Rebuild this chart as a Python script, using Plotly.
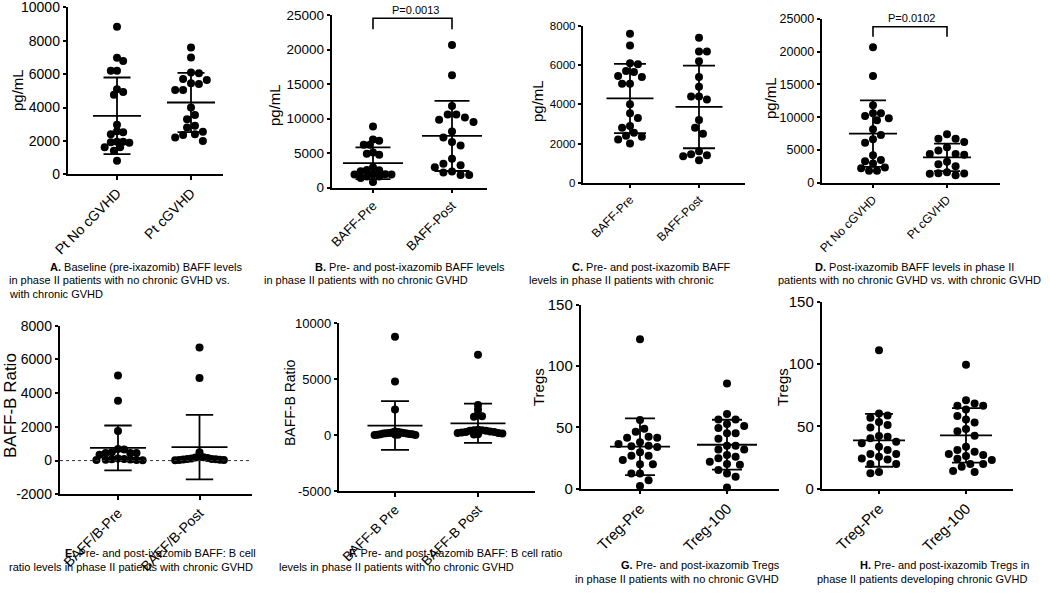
import plotly.graph_objects as go

W, H = 1050, 593
FONT = "Arial, Liberation Sans, sans-serif"

# ---------------- data ----------------
# BAFF (pg/mL)
baff_no_cgvhd_pre = [8842, 6986, 6786, 6208, 6208, 5090, 4930, 4770, 2974, 2575,
                     2515, 2395, 1956, 1956, 1916, 1896, 1617, 1617, 1417, 818]
baff_no_cgvhd_post = [20670, 16290, 11810, 10590, 10590, 10180, 9830, 9520, 8150, 7280,
                      6620, 6110, 4180, 3460, 3260, 2950, 2340, 2190, 1830, 1830]
baff_cgvhd_pre = [7600, 7000, 6100, 6050, 5700, 5650, 5450, 5400, 5050, 5050,
                  4000, 3550, 3300, 2900, 2800, 2550, 2400, 2350, 2200, 2000]
baff_cgvhd_post = [7400, 6700, 6700, 6200, 5400, 4900, 4400, 4400, 4250, 3200,
                   2800, 2500, 1600, 1450, 1400, 1350, 1150]
# BAFF : B cell ratio
ratio_cgvhd_pre = [5050, 3550, 1750, 680, 650, 500, 450, 450, 450, 350,
                   120, 100, 80, 60, 50, 40, 30, 20]
ratio_cgvhd_post = [6700, 4900, 500, 200, 200, 180, 150, 120, 100, 100,
                    80, 60, 50, 40, 30, 20]
ratio_no_pre = [8800, 4800, 2300, 350, 300, 250, 250, 200, 200, 180,
                150, 150, 120, 100, 100, 80, 50, 40, 30, 20]
ratio_no_post = [7200, 2700, 2300, 1900, 1700, 1650, 500, 450, 450, 400,
                 400, 350, 300, 300, 250, 200, 200, 150, 100, 80]
# Tregs
treg_no_pre = [122, 56, 49, 46.5, 42.5, 41.7, 41.7, 38, 36.5, 35, 34, 34.6,
               29.7, 27, 27, 23.4, 20, 20, 12.5, 12.5, 7, 2.2]
treg_no_100 = [86, 61, 56.6, 56.6, 52.8, 51.2, 49.5, 45.2, 45.2, 40.8, 35.1, 35.1,
               32, 32, 27.5, 26, 24.8, 22, 20.1, 19.5, 15.2, 12.5, 9.8, 1]
treg_c_pre = [111, 60.4, 58.8, 57, 53.5, 51, 49, 42.2, 41.7, 40.4, 37.7, 36.4,
              33.7, 31, 27.8, 27.8, 25.7, 24.3, 23.5, 19.8, 19.8, 13.4, 12.3]
treg_c_100 = [99.5, 71, 68.4, 66.6, 66.6, 63.6, 58.3, 55.6, 53.2, 47.9, 46, 42.5,
              33.7, 31, 29.7, 27.8, 27, 26.2, 24, 23, 19.8, 19.8, 17.6, 14.2, 13.4]

# mean and SD
means_A = [3500, 4300];  sds_A = [2295, 1770]
means_B = [3550, 7500];  sds_B = [2300, 5080]
means_C = [4300, 3870];  sds_C = [1770, 2110]
means_D = [7500, 3870];  sds_D = [5080, 2110]
means_E = [750, 800];    sds_E = [1330, 1910]
means_F = [870, 1070];   sds_F = [2180, 1750]
means_G = [34.3, 35.9];  sds_G = [23.2, 20.4]
means_H = [38.8, 42.8];  sds_H = [21.2, 21.9]

cats_A = ["Pt No cGVHD", "Pt cGVHD"]
cats_B = ["BAFF-Pre", "BAFF-Post"]
cats_C = ["BAFF-Pre", "BAFF-Post"]
cats_D = ["Pt No cGVHD", "Pt cGVHD"]
cats_E = ["BAFF/B-Pre", "BAFF/B-Post"]
cats_F = ["BAFF-B Pre", "BAFF-B Post"]
cats_G = ["Treg-Pre", "Treg-100"]
cats_H = ["Treg-Pre", "Treg-100"]

yticks_A = [0, 2000, 4000, 6000, 8000, 10000]
yticks_B = [0, 5000, 10000, 15000, 20000, 25000]
yticks_C = [0, 2000, 4000, 6000, 8000]
yticks_D = [0, 5000, 10000, 15000, 20000, 25000]
yticks_E = [-2000, 0, 2000, 4000, 6000, 8000]
yticks_F = [-5000, 0, 5000, 10000]
yticks_G = [0, 50, 100, 150]
yticks_H = [0, 50, 100, 150]

p_values = {"B": "P=0.0013", "D": "P=0.0102"}

captions = {
    "A": ["<b>A.</b> Baseline (pre-ixazomib) BAFF levels",
          "in phase II patients with no chronic GVHD vs.",
          "with chronic GVHD"],
    "B": ["<b>B.</b> Pre- and post-ixazomib BAFF levels",
          "in phase II patients with no chronic GVHD"],
    "C": ["<b>C.</b> Pre- and post-ixazomib BAFF",
          "levels in phase II patients with chronic"],
    "D": ["<b>D.</b> Post-ixazomib BAFF levels in phase II",
          "patients with no chronic GVHD vs. with chronic GVHD"],
    "E": ["<b>E.</b> Pre- and post-ixazomib BAFF: B cell",
          "ratio levels in phase II patients with chronic GVHD"],
    "F": ["<b>F.</b> Pre- and post-ixazomib BAFF: B cell ratio",
          "levels in phase II patients with no chronic GVHD"],
    "G": ["<b>G.</b> Pre- and post-ixazomib Tregs",
          "in phase II patients with no chronic GVHD"],
    "H": ["<b>H.</b> Pre- and post-ixazomib Tregs in",
          "phase II patients developing chronic GVHD"],
}

# ---------------- layout / style (pixel geometry) ----------------
panels = [
    dict(k="A", groups=[baff_no_cgvhd_pre, baff_cgvhd_pre], means=means_A, sds=sds_A, cats=cats_A,
         yticks=yticks_A, ytitle="pg/mL", x0=68, x1=223, c0=117, c1=191, ytop=7.3, ybot=174.3,
         mw=24, cw=13.5, sp=16, tf=14, xf=14, yf=15, tx=17, ty=90, cap=[(48, 267), (7, 280), (7, 294)]),
    dict(k="B", groups=[baff_no_cgvhd_pre, baff_no_cgvhd_post], means=means_B, sds=sds_B, cats=cats_B,
         yticks=yticks_B, ytitle="pg/mL", x0=332, x1=487, c0=373, c1=452, ytop=15, ybot=187.7,
         mw=30, cw=17.5, sp=22, tf=13.5, xf=13, yf=15, tx=274, ty=105, cap=[(313, 267), (262, 280)],
         bracket=(0.981, 0.917), ptext=(415, 10)),
    dict(k="C", groups=[baff_cgvhd_pre, baff_cgvhd_post], means=means_C, sds=sds_C, cats=cats_C,
         yticks=yticks_C, ytitle="pg/mL", x0=583, x1=745, c0=630, c1=699, ytop=26, ybot=182.7,
         mw=23.5, cw=16, sp=17, tf=11.5, xf=12, yf=15, tx=537, ty=101, cap=[(570, 267), (527, 280)]),
    dict(k="D", groups=[baff_no_cgvhd_post, baff_cgvhd_post], means=means_D, sds=sds_D, cats=cats_D,
         yticks=yticks_D, ytitle="pg/mL", x0=822, x1=1000, c0=873, c1=947, ytop=19, ybot=182.7,
         mw=24, cw=13, sp=20, tf=12.5, xf=12, yf=15, tx=771, ty=98, cap=[(813, 267), (776, 280)],
         bracket=(0.953, 0.892), ptext=(911, 18)),
    dict(k="E", groups=[ratio_cgvhd_pre, ratio_cgvhd_post], means=means_E, sds=sds_E, cats=cats_E,
         yticks=yticks_E, ytitle="BAFF-B Ratio", x0=60, x1=252, c0=118, c1=199.5, ytop=325.7, ybot=494.3,
         mw=28, cw=13.7, sp=25, tf=14, xf=14, yf=17, tx=10, ty=406, cap=[(63, 553), (7, 567)], zeroline=True),
    dict(k="F", groups=[ratio_no_pre, ratio_no_post], means=means_F, sds=sds_F, cats=cats_F,
         yticks=yticks_F, ytitle="BAFF-B Ratio", x0=339, x1=535, c0=395, c1=478, ytop=323.3, ybot=491.3,
         mw=27.5, cw=14, sp=25, tf=13, xf=13.5, yf=14, tx=290, ty=403, cap=[(347, 553), (277, 567)]),
    dict(k="G", groups=[treg_no_pre, treg_no_100], means=means_G, sds=sds_G, cats=cats_G,
         yticks=yticks_G, ytitle="Tregs", x0=581, x1=779, c0=640, c1=727, ytop=305, ybot=488.7,
         mw=30, cw=15, sp=27, tf=15, xf=15, yf=15, tx=538, ty=387, cap=[(619, 565), (573, 579)]),
    dict(k="H", groups=[treg_c_pre, treg_c_100], means=means_H, sds=sds_H, cats=cats_H,
         yticks=yticks_H, ytitle="Tregs", x0=822, x1=1013, c0=879, c1=966, ytop=301.7, ybot=488.7,
         mw=26, cw=14, sp=26, tf=15, xf=15, yf=15, tx=782, ty=387, cap=[(858, 565), (815, 579)]),
]

MARKER = 8
DIAM = 8.6


def swarm_once(values, px_per_unit, diam):
    step = diam / 2
    order = sorted(range(len(values)), key=lambda i: -values[i])
    placed = []
    offs = [0.0] * len(values)
    cands = [0.0]
    for j in range(1, 60):
        cands += [j * step, -j * step]
    flip = 1
    for i in order:
        y = values[i] * px_per_unit
        cc = 0.0
        for c in cands:
            cc = c * flip
            if all((cc - px) ** 2 + (y - py) ** 2 >= diam ** 2 for px, py in placed):
                break
        if cc != 0:
            flip = -flip
        placed.append((cc, y))
        offs[i] = cc
    return offs


def swarm(values, px_per_unit, limit):
    """Beeswarm offsets (px); markers overlap more when the swarm would exceed `limit`."""
    d = DIAM
    while True:
        offs = swarm_once(values, px_per_unit, d)
        if max(abs(o) for o in offs) <= limit or d < 1.0:
            return offs
        d *= 0.92


def px2x(px):
    return px / W


def px2y(py):
    return 1 - py / H


fig = go.Figure()
layout = {}
annotations = []

for n, p in enumerate(panels, start=1):
    xa = "x" if n == 1 else f"x{n}"
    ya = "y" if n == 1 else f"y{n}"
    u = p["c1"] - p["c0"]
    xr = [-(p["c0"] - p["x0"]) / u, 1 + (p["x1"] - p["c1"]) / u]
    yr = [p["yticks"][0], p["yticks"][-1]]
    ppu = (p["ybot"] - p["ytop"]) / (yr[1] - yr[0])

    # points
    for gi, vals in enumerate(p["groups"]):
        offs = swarm(vals, ppu, p["sp"])
        fig.add_trace(go.Scatter(
            x=[gi + o / u for o in offs], y=vals, mode="markers",
            marker=dict(color="black", size=MARKER, line=dict(width=0)),
            xaxis=xa, yaxis=ya, cliponaxis=False, showlegend=False, hoverinfo="y"))

    # mean +/- SD
    lx, ly = [], []
    for gi, (m, s) in enumerate(zip(p["means"], p["sds"])):
        mw, cw = p["mw"] / u, p["cw"] / u
        lx += [gi - mw, gi + mw, None, gi - cw, gi + cw, None, gi - cw, gi + cw, None, gi, gi, None]
        ly += [m, m, None, m + s, m + s, None, m - s, m - s, None, m - s, m + s, None]
    fig.add_trace(go.Scatter(x=lx, y=ly, mode="lines", line=dict(color="black", width=1.8),
                             xaxis=xa, yaxis=ya, showlegend=False, hoverinfo="skip"))

    if p.get("zeroline"):
        fig.add_trace(go.Scatter(x=xr, y=[0, 0], mode="lines",
                                 line=dict(color="#333333", width=1, dash="dot"),
                                 xaxis=xa, yaxis=ya, showlegend=False, hoverinfo="skip"))

    if "bracket" in p:
        top, leg = p["bracket"]
        fig.add_trace(go.Scatter(x=[0, 0, 1, 1], y=[leg * yr[1], top * yr[1], top * yr[1], leg * yr[1]],
                                 mode="lines", line=dict(color="black", width=1.6),
                                 xaxis=xa, yaxis=ya, showlegend=False, hoverinfo="skip"))
        annotations.append(dict(text=p_values[p["k"]], x=px2x(p["ptext"][0]), y=px2y(p["ptext"][1]),
                                xref="paper", yref="paper", showarrow=False, xanchor="center",
                                yanchor="middle", font=dict(size=11, color="black", family=FONT)))

    axis_common = dict(showline=True, linecolor="black", linewidth=1.5, ticks="outside",
                       ticklen=3.5, tickwidth=1.5, tickcolor="black", showgrid=False,
                       zeroline=False, fixedrange=True, automargin=False,
                       ticklabeloverflow="allow")
    layout["xaxis" if n == 1 else f"xaxis{n}"] = dict(
        domain=[px2x(p["x0"]), px2x(p["x1"])], range=xr, anchor=ya,
        tickvals=[0, 1], ticktext=p["cats"], tickangle=-45,
        tickfont=dict(size=p["xf"], color="black", family=FONT), **axis_common)
    layout["yaxis" if n == 1 else f"yaxis{n}"] = dict(
        domain=[px2y(p["ybot"]), px2y(p["ytop"])], range=yr, anchor=xa,
        tickvals=p["yticks"], ticktext=[str(v) for v in p["yticks"]],
        tickfont=dict(size=p["tf"], color="black", family=FONT), **axis_common)

    annotations.append(dict(text=p["ytitle"], x=px2x(p["tx"]), y=px2y(p["ty"]), xref="paper",
                            yref="paper", showarrow=False, textangle=-90, xanchor="center",
                            yanchor="middle", font=dict(size=p["yf"], color="black", family=FONT)))

    for line, (cx, cy) in zip(captions[p["k"]], p["cap"]):
        annotations.append(dict(text=line, x=px2x(cx), y=px2y(cy), xref="paper", yref="paper",
                                showarrow=False, xanchor="left", yanchor="middle",
                                font=dict(size=11, color="black", family=FONT)))

fig.update_layout(
    width=W, height=H, margin=dict(l=0, r=0, t=0, b=0, pad=0, autoexpand=False),
    paper_bgcolor="white", plot_bgcolor="white",
    font=dict(family=FONT, color="black"),
    annotations=annotations, showlegend=False, **layout)

fig.write_html("out.html", config={"displayModeBar": False},
               post_script="document.body.style.margin='0';document.body.style.padding='0';"
                           "document.body.style.overflow='hidden';")
